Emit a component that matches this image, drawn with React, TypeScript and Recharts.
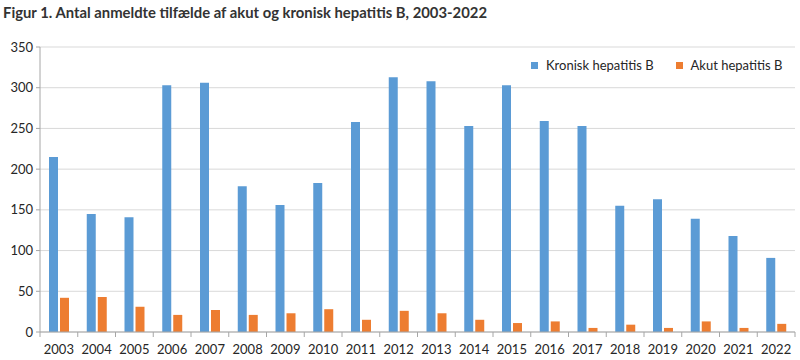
import { BarChart, Bar, XAxis, YAxis, CartesianGrid, Legend } from 'recharts';

const years = [
  '2003', '2004', '2005', '2006', '2007', '2008', '2009', '2010', '2011', '2012',
  '2013', '2014', '2015', '2016', '2017', '2018', '2019', '2020', '2021', '2022',
];
const kroniskHepatitisB = [215, 145, 141, 303, 306, 179, 156, 183, 258, 313, 308, 253, 303, 259, 253, 155, 163, 139, 118, 91];
const akutHepatitisB = [42, 43, 31, 21, 27, 21, 23, 28, 15, 26, 23, 15, 11, 13, 5, 9, 5, 13, 5, 10];
const yTicks = [0, 50, 100, 150, 200, 250, 300, 350];
const seriesOrder = ['kronisk', 'akut'];

const chartData = years.map((year, i) => ({
  year,
  kronisk: kroniskHepatitisB[i],
  akut: akutHepatitisB[i],
}));

const FONT = 'Lato, "DejaVu Sans", sans-serif';
const TEXT = '#262626';
const AXIS = '#a6a6a6';
const WIDTH = 800;
const HEIGHT = 360;
const LEFT = 40;
const RIGHT = 5;
const BAND = (WIDTH - LEFT - RIGHT) / years.length;

// year label centred, tick marks on category boundaries (Excel style)
const YearTick = ({ x, y, payload, index }: any) => (
  <g>
    <line x1={x - BAND / 2} x2={x - BAND / 2} y1={y} y2={y + 5} stroke={AXIS} />
    {index === years.length - 1 && (
      <line x1={x + BAND / 2} x2={x + BAND / 2} y1={y} y2={y + 5} stroke={AXIS} />
    )}
    <text x={x} y={y + 22} textAnchor="middle" fill={TEXT} fontSize={13} fontFamily={FONT}>
      {payload.value}
    </text>
  </g>
);

// keep series order (recharts sorts legend items by name otherwise)
const LegendContent = ({ payload }: any) => {
  const items = [...(payload || [])].sort(
    (a: any, b: any) => seriesOrder.indexOf(a.dataKey) - seriesOrder.indexOf(b.dataKey)
  );
  return (
    <div style={{ display: 'flex', alignItems: 'center', fontFamily: FONT, fontSize: 13, color: TEXT }}>
      {items.map((entry: any, i: number) => (
        <div key={i} style={{ display: 'flex', alignItems: 'center', marginRight: i === 0 ? 22 : 0 }}>
          <span style={{ width: 7, height: 7, background: entry.color, marginRight: 8, display: 'inline-block' }} />
          <span>{entry.value}</span>
        </div>
      ))}
    </div>
  );
};

export default function App() {
  return (
    <div style={{ position: 'absolute', left: 0, top: 0, width: WIDTH, height: HEIGHT, background: '#fff' }}>
      <svg width={WIDTH} height={30} style={{ position: 'absolute', left: 0, top: 0 }}>
        <text
          x={3}
          y={18}
          fontSize={16}
          fontWeight="bold"
          fontFamily={FONT}
          fill="#333"
          textLength={484}
          lengthAdjust="spacingAndGlyphs"
        >
          Figur 1. Antal anmeldte tilfælde af akut og kronisk hepatitis B, 2003-2022
        </text>
      </svg>
      <BarChart
        width={WIDTH}
        height={HEIGHT}
        data={chartData}
        margin={{ top: 47, right: RIGHT, left: 0, bottom: 0 }}
        barSize={9}
        barGap={2}
      >
        <CartesianGrid stroke="#d9d9d9" vertical={false} />
        <XAxis
          dataKey="year"
          height={28}
          interval={0}
          tickLine={false}
          tickSize={0}
          tickMargin={0}
          axisLine={{ stroke: AXIS }}
          tick={<YearTick />}
        />
        <YAxis
          width={LEFT}
          domain={[0, 350]}
          ticks={yTicks}
          interval={0}
          tickSize={4}
          tickMargin={3}
          axisLine={{ stroke: AXIS }}
          tickLine={{ stroke: AXIS }}
          tick={{ fill: TEXT, fontSize: 13, fontFamily: FONT }}
        />
        <Legend
          layout="horizontal"
          verticalAlign="middle"
          align="center"
          wrapperStyle={{ position: 'absolute', top: 57, left: 531, width: 'auto' }}
          content={<LegendContent />}
        />
        <Bar dataKey="kronisk" name="Kronisk hepatitis B" fill="#5b9bd5" isAnimationActive={false} />
        <Bar dataKey="akut" name="Akut hepatitis B" fill="#ed7d31" isAnimationActive={false} />
      </BarChart>
    </div>
  );
}
